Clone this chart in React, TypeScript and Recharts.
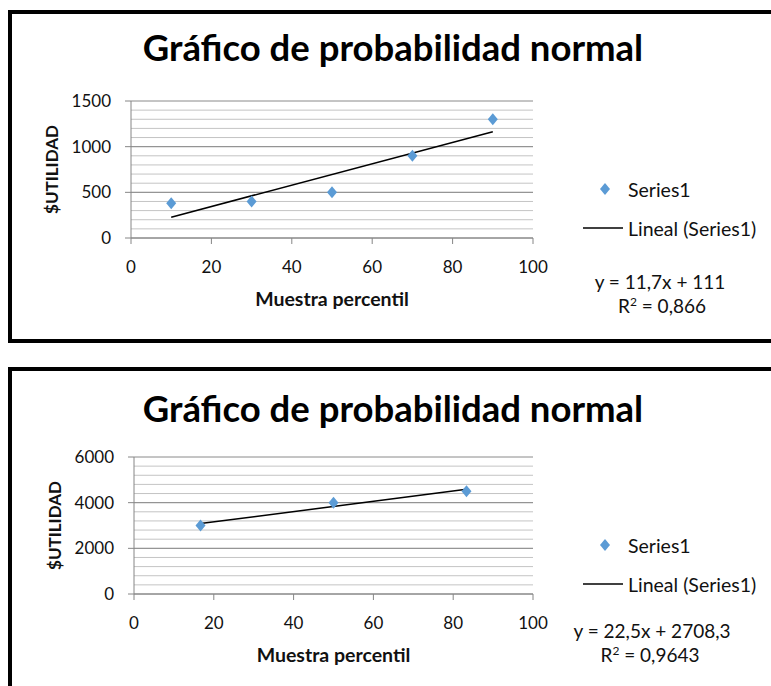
import {
  CartesianGrid,
  Label,
  Legend,
  Scatter,
  ScatterChart,
  XAxis,
  YAxis,
} from "recharts";

const POINT_COLOR = "#5b9bd5";
const AXIS_COLOR = "#868686";
const MAJOR_GRID = "#8a8a8a";
const MINOR_GRID = "#c4c4c4";
const FONT = "Lato, 'Open Sans', sans-serif";

const TITLE = "Gráfico de probabilidad normal";
const X_TITLE = "Muestra percentil";
const Y_TITLE = "$UTILIDAD";
const SERIES_NAME = "Series1";
const TREND_NAME = "Lineal (Series1)";

const X_TICKS = [0, 20, 40, 60, 80, 100];

// panel 1
const X1 = [10, 30, 50, 70, 90];
const Y1 = [380, 400, 500, 900, 1300];
const Y1_TICKS = [0, 500, 1000, 1500];
const Y1_MINOR = 100;
const EQ1 = "y = 11,7x + 111";
const R2_1 = "0,866";

// panel 2
const X2 = [16.67, 50, 83.33];
const Y2 = [3000, 4000, 4500];
const Y2_TICKS = [0, 2000, 4000, 6000];
const Y2_MINOR = 400;
const EQ2 = "y = 22,5x + 2708,3";
const R2_2 = "0,9643";

type Pt = { x: number; y: number };

// least squares trend through the points, drawn from first to last x
function trendOf(pts: Pt[]): Pt[] {
  const n = pts.length;
  const mx = pts.reduce((s, p) => s + p.x, 0) / n;
  const my = pts.reduce((s, p) => s + p.y, 0) / n;
  let sxy = 0;
  let sxx = 0;
  pts.forEach((p) => {
    sxy += (p.x - mx) * (p.y - my);
    sxx += (p.x - mx) * (p.x - mx);
  });
  const b = sxy / sxx;
  const a = my - b * mx;
  const xs = [pts[0].x, pts[n - 1].x];
  return xs.map((x) => ({ x, y: a + b * x }));
}

function Diamond(props: any) {
  const { cx, cy } = props;
  if (cx == null || cy == null) return <g />;
  return (
    <path
      d={`M${cx},${cy - 6}L${cx + 5},${cy}L${cx},${cy + 6}L${cx - 5},${cy}Z`}
      fill={POINT_COLOR}
    />
  );
}

function LegendBox() {
  return (
    <div style={{ fontFamily: FONT, fontSize: 19.5, color: "#111" }}>
      <div style={{ display: "flex", alignItems: "center", height: 20 }}>
        <svg width={45} height={14} style={{ flexShrink: 0 }}>
          <path d="M22,1L27,7L22,13L17,7Z" fill={POINT_COLOR} />
        </svg>
        <span style={{ whiteSpace: "nowrap" }}>{SERIES_NAME}</span>
      </div>
      <div
        style={{ display: "flex", alignItems: "center", height: 20, marginTop: 19 }}
      >
        <svg width={45} height={14} style={{ flexShrink: 0 }}>
          <line x1={0} x2={40} y1={7} y2={7} stroke="#000" strokeWidth={1.5} />
        </svg>
        <span style={{ whiteSpace: "nowrap" }}>{TREND_NAME}</span>
      </div>
    </div>
  );
}

type PanelProps = {
  boxTop: number;
  boxHeight: number;
  xs: number[];
  ys: number[];
  yTicks: number[];
  minorStep: number;
  plotTop: number;
  plotBottom: number;
  plotLeft: number;
  eq: string;
  r2: string;
  eqX: number;
  r2X: number;
  eqDy: number;
  titleTop: number;
  legendTop: number;
};

function Panel({
  boxTop,
  boxHeight,
  xs,
  ys,
  yTicks,
  minorStep,
  plotTop,
  plotBottom,
  plotLeft,
  eq,
  r2,
  eqX,
  r2X,
  eqDy,
  titleTop,
  legendTop,
}: PanelProps) {
  const H = 343;
  const pts = xs.map((x, i) => ({ x, y: ys[i] }));
  const trend = trendOf(pts);
  const yMax = yTicks[yTicks.length - 1];
  const minor: number[] = [];
  for (let v = minorStep; v < yMax; v += minorStep) minor.push(v);
  const yAxisW = 90;

  return (
    <div style={{ position: "absolute", left: 0, top: 0, width: 771, height: H }}>
      <div
        style={{
          position: "absolute",
          left: 8,
          top: boxTop,
          width: 800,
          height: boxHeight,
          border: "4px solid #000",
          boxSizing: "border-box",
        }}
      />
      <div
        style={{
          position: "absolute",
          left: 0,
          width: 786,
          top: titleTop,
          textAlign: "center",
          fontFamily: FONT,
          fontWeight: 700,
          fontSize: 36.5,
          lineHeight: "40px",
          color: "#000",
        }}
      >
        {TITLE}
      </div>
      <div style={{ position: "absolute", left: 0, top: 0 }}>
        <ScatterChart
          width={771}
          height={H}
          margin={{
            top: plotTop,
            left: plotLeft - yAxisW,
            right: 771 - 533,
            bottom: H - plotBottom - 80,
          }}
        >
          <CartesianGrid
            vertical={false}
            horizontalValues={minor}
            stroke={MINOR_GRID}
          />
          <CartesianGrid
            vertical={false}
            horizontalValues={yTicks}
            stroke={MAJOR_GRID}
          />
          <XAxis
            type="number"
            dataKey="x"
            domain={[0, 100]}
            ticks={X_TICKS}
            interval={0}
            height={80}
            stroke={AXIS_COLOR}
            tickSize={6}
            tickMargin={17}
            tick={{ fontSize: 17, fill: "#111", fontFamily: FONT }}
          >
            <Label
              value={X_TITLE}
              position="insideTop"
              offset={54}
              style={{
                fontSize: 19.5,
                fontWeight: 700,
                fill: "#111",
                fontFamily: FONT,
              }}
            />
          </XAxis>
          <YAxis
            type="number"
            dataKey="y"
            domain={[0, yMax]}
            ticks={yTicks}
            interval={0}
            width={yAxisW}
            stroke={AXIS_COLOR}
            tickSize={6}
            tickMargin={14}
            tick={{ fontSize: 17, fill: "#111", fontFamily: FONT }}
          >
            <Label
              value={Y_TITLE}
              angle={-90}
              position="insideLeft"
              offset={11}
              style={{
                textAnchor: "middle",
                fontSize: 17,
                fontWeight: 700,
                fill: "#111",
                fontFamily: FONT,
              }}
            />
          </YAxis>
          <Legend
            layout="vertical"
            align="center"
            verticalAlign="middle"
            content={() => <LegendBox />}
            wrapperStyle={{ left: 583, top: legendTop, width: 190 }}
          />
          <Scatter
            name={TREND_NAME}
            data={trend}
            line={{ stroke: "#000", strokeWidth: 1.5 }}
            shape={() => <g />}
            isAnimationActive={false}
          />
          <Scatter
            name={SERIES_NAME}
            data={pts}
            shape={Diamond}
            isAnimationActive={false}
          />
        </ScatterChart>
      </div>
      <div
        style={{
          position: "absolute",
          left: eqX - 100,
          width: 200,
          top: plotBottom + eqDy,
          textAlign: "center",
          fontFamily: FONT,
          fontSize: 19,
          lineHeight: "24px",
          color: "#111",
          whiteSpace: "nowrap",
        }}
      >
        {eq}
      </div>
      <div
        style={{
          position: "absolute",
          left: r2X - 100,
          width: 200,
          top: plotBottom + eqDy + 24,
          textAlign: "center",
          fontFamily: FONT,
          fontSize: 19,
          lineHeight: "24px",
          color: "#111",
        }}
      >
        R<sup style={{ fontSize: 12, lineHeight: 0 }}>2</sup> = {r2}
      </div>
    </div>
  );
}

export default function App() {
  return (
    <div
      style={{
        position: "absolute",
        left: 0,
        top: 0,
        width: 771,
        height: 686,
        overflow: "hidden",
        background: "#fff",
      }}
    >
      <div
        style={{
          position: "absolute",
          left: 0,
          top: 0,
          width: 771,
          height: 343,
          overflow: "hidden",
        }}
      >
        <Panel
          boxTop={10}
          boxHeight={333}
          xs={X1}
          ys={Y1}
          yTicks={Y1_TICKS}
          minorStep={Y1_MINOR}
          plotTop={101}
          plotBottom={238}
          plotLeft={131}
          eq={EQ1}
          r2={R2_1}
          eqX={660}
          r2X={662}
          eqDy={32}
          titleTop={27}
          legendTop={179}
        />
      </div>
      <div
        style={{
          position: "absolute",
          left: 0,
          top: 343,
          width: 771,
          height: 343,
          overflow: "hidden",
        }}
      >
        <Panel
          boxTop={24}
          boxHeight={400}
          xs={X2}
          ys={Y2}
          yTicks={Y2_TICKS}
          minorStep={Y2_MINOR}
          plotTop={114}
          plotBottom={251}
          plotLeft={134}
          eq={EQ2}
          r2={R2_2}
          eqX={652}
          r2X={650}
          eqDy={25}
          titleTop={45}
          legendTop={192}
        />
      </div>
    </div>
  );
}
